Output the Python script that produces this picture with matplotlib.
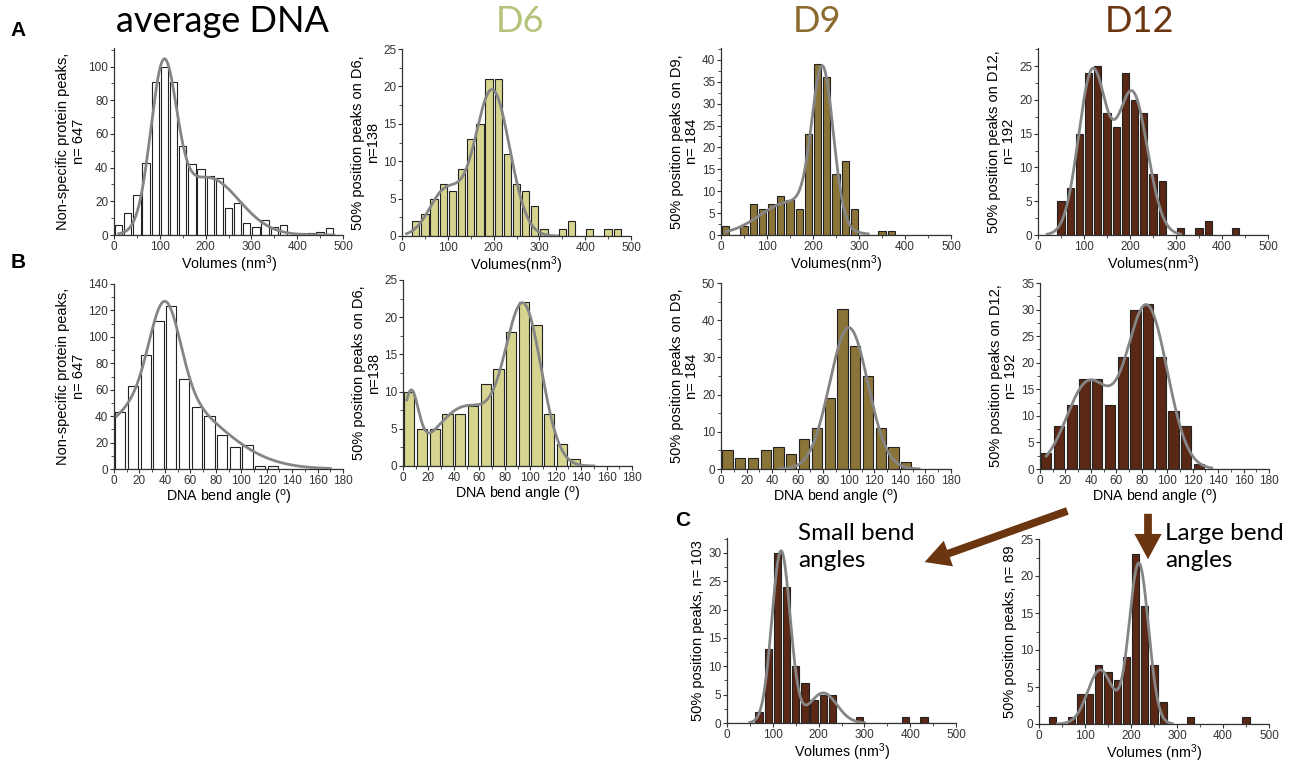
import numpy as np
import matplotlib
matplotlib.use("Agg")
import matplotlib.pyplot as plt
from matplotlib.ticker import MultipleLocator
from matplotlib.patches import FancyArrowPatch

plt.rcParams['font.family'] = ['Liberation Sans', 'DejaVu Sans']
plt.rcParams['mathtext.default'] = 'regular'

W, H = 1294, 765

# ---------------- data ----------------
vol_bins = [10, 30, 50, 70, 90, 110, 130, 150, 170, 190, 210, 230, 250,
            270, 290, 310, 330, 350, 370, 390, 410, 430, 450, 470, 490]
ang_bins = [5, 15, 25, 35, 45, 55, 65, 75, 85, 95, 105, 115, 125, 135,
            145, 155, 165, 175]

avg_vol = [6, 13, 24, 43, 91, 100, 91, 53, 42, 39, 35, 34, 16, 19, 7, 5, 9, 5, 6, 0, 1, 1, 2, 4, 0]
d6_vol = [0, 2, 3, 5, 7, 6, 9, 13, 15, 21, 21, 11, 7, 6, 4, 1, 0, 1, 2, 0, 1, 0, 1, 1, 0]
d9_vol = [2, 0, 2, 7, 6, 7, 9, 8, 6, 23, 39, 36, 14, 17, 6, 0, 0, 1, 1, 0, 0, 0, 0, 0, 0]
d12_vol = [0, 0, 5, 7, 15, 24, 25, 18, 16, 24, 20, 18, 9, 8, 0, 1, 0, 1, 2, 0, 0, 1, 0, 0, 0]
small_vol = [0, 0, 0, 2, 13, 30, 24, 10, 7, 4, 5, 5, 0, 0, 1, 0, 0, 0, 0, 1, 0, 1, 0, 0, 0]
large_vol = [0, 1, 0, 1, 4, 4, 8, 7, 6, 9, 23, 16, 8, 3, 0, 0, 1, 0, 0, 0, 0, 0, 1, 0, 0]

avg_ang = [43, 63, 86, 112, 123, 68, 47, 40, 26, 17, 18, 2, 2, 0, 0, 0, 0, 0]
d6_ang = [10, 5, 5, 7, 7, 8, 11, 13, 18, 22, 19, 7, 3, 1, 0, 0, 0, 0]
d9_ang = [5, 3, 3, 5, 6, 4, 8, 11, 19, 43, 33, 25, 11, 6, 2, 0, 0, 0]
d12_ang = [3, 8, 12, 17, 17, 12, 21, 30, 31, 21, 11, 8, 1, 0, 0, 0, 0, 0]

# Gaussian fit components (amplitude, centre, sigma) and fit range
avg_vol_fit = [(92, 108, 28), (34, 205, 68)]
d6_vol_fit = [(6, 95, 35), (19.5, 197, 38)]
d9_vol_fit = [(7.5, 150, 65), (34.5, 221, 23)]
d12_vol_fit = [(24, 118, 30), (21, 205, 33)]
small_vol_fit = [(30.3, 118, 20), (5.3, 210, 30)]
large_vol_fit = [(7.3, 133, 27), (21.7, 217, 21)]
avg_ang_fit = [(70, 40, 12), (57, 38, 42)]
d6_ang_fit = [(8.5, 6, 6), (8, 50, 25), (20.3, 95, 14)]
d9_ang_fit = [(38, 100, 15)]
d12_ang_fit = [(16.2, 38, 17), (30.5, 84, 16)]

avg_vol_rng = (10, 480)
d6_vol_rng = (10, 340)
d9_vol_rng = (10, 320)
d12_vol_rng = (20, 310)
small_vol_rng = (50, 300)
large_vol_rng = (40, 290)
avg_ang_rng = (2, 170)
d6_ang_rng = (3, 150)
d9_ang_rng = (45, 155)
d12_ang_rng = (5, 135)

titles = ["average DNA", "D6", "D9", "D12"]
title_colors = ["black", "#b3c47a", "#8b6c2e", "#6b3510"]
bar_colors = ["white", "#d6d48e", "#8b7438", "#5a2814"]

# ---------------- helpers ----------------
fig = plt.figure(figsize=(W / 100, H / 100), dpi=100)


def add_ax(left, right, top, bottom):
    return fig.add_axes([left / W, 1 - bottom / H, (right - left) / W, (bottom - top) / H])


def fit_curve(params, rng):
    x = np.linspace(rng[0], rng[1], 400)
    y = np.zeros_like(x)
    for a, m, s in params:
        y += a * np.exp(-(x - m) ** 2 / (2 * s ** 2))
    return x, y


def panel(rect, centers, counts, bw, color, params, rng, xmax, xmaj, ymax, ymaj,
          ylabel, xlabel):
    ax = add_ax(*rect)
    ax.bar(centers, counts, width=bw * 0.8, color=color, edgecolor='#222222',
           linewidth=0.8, zorder=2)
    x, y = fit_curve(params, rng)
    ax.plot(x, y, color='#858585', lw=2.0, zorder=3)
    ax.set_xlim(0, xmax)
    ax.set_ylim(0, ymax)
    ax.xaxis.set_major_locator(MultipleLocator(xmaj))
    ax.xaxis.set_minor_locator(MultipleLocator(xmaj / 2))
    ax.yaxis.set_major_locator(MultipleLocator(ymaj))
    ax.yaxis.set_minor_locator(MultipleLocator(ymaj / 2))
    for s in ['top', 'right']:
        ax.spines[s].set_visible(False)
    for s in ['left', 'bottom']:
        ax.spines[s].set_color('#333333')
        ax.spines[s].set_linewidth(0.9)
    ax.tick_params(which='major', length=3, width=0.8, labelsize=8.5,
                   colors='#333333', pad=1.2, direction='out')
    ax.tick_params(which='minor', length=2, width=0.6, colors='#333333', direction='out')
    ax.set_ylabel(ylabel, fontsize=10.5, labelpad=2, linespacing=1.1)
    ax.set_xlabel(xlabel, fontsize=10.3, labelpad=0.5)
    return ax


vol_lab = "Volumes (nm$^3$)"
vol_lab2 = "Volumes(nm$^3$)"
ang_lab = "DNA bend angle ($^{\\rm o}$)"

ylabs = ["Non-specific protein peaks,\nn= 647",
         "50% position peaks on D6,\nn=138",
         "50% position peaks on D9,\nn= 184",
         "50% position peaks on D12,\nn= 192"]

# Row A: volumes
panel((114, 343, 48, 235), vol_bins, avg_vol, 20, bar_colors[0], avg_vol_fit, avg_vol_rng,
      500, 100, 111, 20, ylabs[0], vol_lab)
panel((402, 631, 49, 236), vol_bins, d6_vol, 20, bar_colors[1], d6_vol_fit, d6_vol_rng,
      500, 100, 25, 5, ylabs[1], vol_lab2)
panel((721, 951, 48, 235), vol_bins, d9_vol, 20, bar_colors[2], d9_vol_fit, d9_vol_rng,
      500, 100, 42.7, 5, ylabs[2], vol_lab2)
panel((1038, 1268, 48, 235), vol_bins, d12_vol, 20, bar_colors[3], d12_vol_fit, d12_vol_rng,
      500, 100, 27.7, 5, ylabs[3], vol_lab2)

# Row B: angles
panel((114, 343, 284, 469), ang_bins, avg_ang, 10, bar_colors[0], avg_ang_fit, avg_ang_rng,
      180, 20, 140, 20, ylabs[0], ang_lab)
panel((403, 632, 280, 466), ang_bins, d6_ang, 10, bar_colors[1], d6_ang_fit, d6_ang_rng,
      180, 20, 25, 5, ylabs[1], ang_lab)
panel((721, 951, 283, 469), ang_bins, d9_ang, 10, bar_colors[2], d9_ang_fit, d9_ang_rng,
      180, 20, 50, 10, ylabs[2], ang_lab)
panel((1040, 1269, 283, 469), ang_bins, d12_ang, 10, bar_colors[3], d12_ang_fit, d12_ang_rng,
      180, 20, 35, 5, ylabs[3], ang_lab)

# Row C: split volumes
panel((727, 956, 538, 723), vol_bins, small_vol, 20, bar_colors[3], small_vol_fit, small_vol_rng,
      500, 100, 32.6, 5, "50% position peaks, n= 103", vol_lab)
panel((1039, 1269, 539, 724), vol_bins, large_vol, 20, bar_colors[3], large_vol_fit, large_vol_rng,
      500, 100, 25, 5, "50% position peaks, n= 89", vol_lab)

# Column titles
title_x = [222, 520, 817, 1140]
for t, c, xp in zip(titles, title_colors, title_x):
    fig.text(xp / W, 1 - 22 / H, t, color=c, fontsize=26, family=['Lato', 'DejaVu Sans'],
             ha='center', va='center')

# Panel letters
for lab, xp, yp in [("A", 18, 30), ("B", 18, 262), ("C", 683, 520)]:
    fig.text(xp / W, 1 - yp / H, lab, fontsize=15, fontweight='bold', ha='center', va='center')

# Annotations
fig.text(798 / W, 1 - 547 / H, "Small bend\nangles", fontsize=17.5,
         family=['Lato', 'DejaVu Sans'], ha='left', va='center', linespacing=1.35)
fig.text(1165 / W, 1 - 547 / H, "Large bend\nangles", fontsize=17.5,
         family=['Lato', 'DejaVu Sans'], ha='left', va='center', linespacing=1.35)

arrow_col = '#6b3510'
a1 = FancyArrowPatch((1070 / W, 1 - 510 / H), (922 / W, 1 - 563 / H),
                     transform=fig.transFigure, arrowstyle='simple,head_length=1.3,head_width=1.4,tail_width=0.4',
                     mutation_scale=14, color=arrow_col, lw=0)
a2 = FancyArrowPatch((1148 / W, 1 - 511 / H), (1148 / W, 1 - 562 / H),
                     transform=fig.transFigure, arrowstyle='simple,head_length=1.3,head_width=1.4,tail_width=0.4',
                     mutation_scale=14, color=arrow_col, lw=0)
fig.patches.extend([a1, a2])

fig.savefig("out.png", dpi=100)
